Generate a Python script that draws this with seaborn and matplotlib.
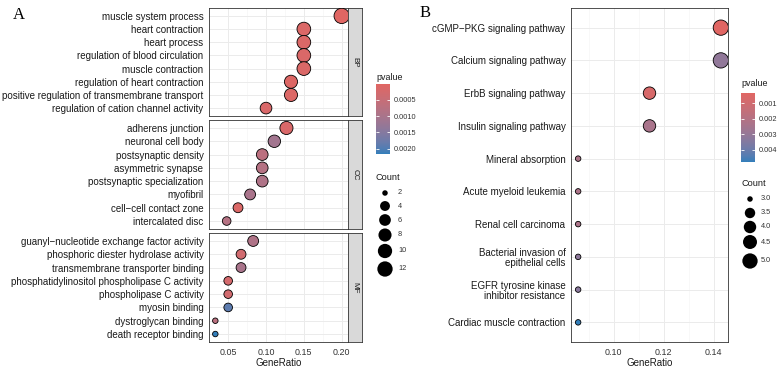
import numpy as np
import pandas as pd
import matplotlib
matplotlib.use("Agg")
import matplotlib.pyplot as plt
import seaborn as sns
from matplotlib.colors import ListedColormap, Normalize
from matplotlib.cm import ScalarMappable

# ---------------- data: panel A (GO enrichment) ----------------
bp_terms = ["muscle system process", "heart contraction", "heart process",
            "regulation of blood circulation", "muscle contraction",
            "regulation of heart contraction",
            "positive regulation of transmembrane transport",
            "regulation of cation channel activity"]
bp_ratio = [0.200, 0.150, 0.150, 0.150, 0.150, 0.133, 0.133, 0.100]
bp_count = [12, 9, 9, 9, 9, 8, 8, 6]
bp_p = [0.000015, 0.00012, 0.00012, 0.00014, 0.00013, 0.00008, 0.00010, 0.00015]

cc_terms = ["adherens junction", "neuronal cell body", "postsynaptic density",
            "asymmetric synapse", "postsynaptic specialization", "myofibril",
            "cell\u2212cell contact zone", "intercalated disc"]
cc_ratio = [0.127, 0.111, 0.095, 0.095, 0.095, 0.079, 0.063, 0.048]
cc_count = [8, 7, 6, 6, 6, 5, 4, 3]
cc_p = [0.00015, 0.0011, 0.0007, 0.0008, 0.0009, 0.0010, 0.00012, 0.0008]

mf_terms = ["guanyl\u2212nucleotide exchange factor activity",
            "phosphoric diester hydrolase activity",
            "transmembrane transporter binding",
            "phosphatidylinositol phospholipase C activity",
            "phospholipase C activity", "myosin binding",
            "dystroglycan binding", "death receptor binding"]
mf_ratio = [0.083, 0.067, 0.067, 0.050, 0.050, 0.050, 0.033, 0.033]
mf_count = [5, 4, 4, 3, 3, 3, 2, 2]
mf_p = [0.0009, 0.0003, 0.0010, 0.00025, 0.0003, 0.0019, 0.0007, 0.00216]

facet_labels = ["BP", "CC", "MF"]
count_breaks_a = [2, 4, 6, 8, 10, 12]
p_breaks_a = [0.0005, 0.0010, 0.0015, 0.0020]

# ---------------- data: panel B (KEGG enrichment) ----------------
kegg_terms = ["cGMP\u2212PKG signaling pathway", "Calcium signaling pathway",
              "ErbB signaling pathway", "Insulin signaling pathway",
              "Mineral absorption", "Acute myeloid leukemia",
              "Renal cell carcinoma", "Bacterial invasion of\nepithelial cells",
              "EGFR tyrosine kinase\ninhibitor resistance",
              "Cardiac muscle contraction"]
kegg_ratio = [0.1429, 0.1429, 0.1143, 0.1143, 0.0857, 0.0857, 0.0857, 0.0857, 0.0857, 0.0857]
kegg_count = [5, 5, 4, 4, 3, 3, 3, 3, 3, 3]
kegg_p = [0.00035, 0.0031, 0.0007, 0.0024, 0.0023, 0.0023, 0.0023, 0.0032, 0.0033, 0.0048]
count_breaks_b = [3.0, 3.5, 4.0, 4.5, 5.0]
p_breaks_b = [0.001, 0.002, 0.003, 0.004]

W, H = 783, 370
DPI = 100

# ---------------- colour map: Lab interpolation like ggplot ----------------
def srgb_to_lab(c):
    c = np.asarray(c, float)
    lin = np.where(c <= 0.04045, c / 12.92, ((c + 0.055) / 1.055) ** 2.4)
    M = np.array([[0.4124, 0.3576, 0.1805], [0.2126, 0.7152, 0.0722], [0.0193, 0.1192, 0.9505]])
    xyz = M @ lin / np.array([0.95047, 1.0, 1.08883])
    f = np.where(xyz > 0.008856, np.cbrt(xyz), 7.787 * xyz + 16 / 116)
    return np.array([116 * f[1] - 16, 500 * (f[0] - f[1]), 200 * (f[1] - f[2])])

def lab_to_srgb(lab):
    L, a, b = lab
    fy = (L + 16) / 116
    fx = fy + a / 500
    fz = fy - b / 200
    f = np.array([fx, fy, fz])
    xyz = np.where(f ** 3 > 0.008856, f ** 3, (f - 16 / 116) / 7.787) * np.array([0.95047, 1.0, 1.08883])
    Mi = np.array([[3.2406, -1.5372, -0.4986], [-0.9689, 1.8758, 0.0415], [0.0557, -0.2040, 1.0570]])
    lin = np.clip(Mi @ xyz, 0, 1)
    return np.where(lin <= 0.0031308, 12.92 * lin, 1.055 * lin ** (1 / 2.4) - 0.055)

low = np.array([0xE0, 0x66, 0x63]) / 255
high = np.array([0x32, 0x7E, 0xBA]) / 255
la, lb = srgb_to_lab(low), srgb_to_lab(high)
cmap = ListedColormap([np.clip(lab_to_srgb(la + (lb - la) * t), 0, 1) for t in np.linspace(0, 1, 256)])

# ---------------- size mapping like ggplot scale_size ----------------
D_MIN, D_MAX = 5.5, 15.3   # diameters in pixels
def size_of(c, cmin, cmax):
    d = D_MIN + (D_MAX - D_MIN) * np.sqrt((c - cmin) / (cmax - cmin))
    return (d * 72 / DPI) ** 2

sns.set_style("white")
plt.rcParams["font.family"] = ["Liberation Sans", "DejaVu Sans"]

fig = plt.figure(figsize=(W / DPI, H / DPI), dpi=DPI)

def fbox(x0, y0, x1, y1):
    return [x0 / W, 1 - y1 / H, (x1 - x0) / W, (y1 - y0) / H]

BORDER = "#333333"

def style_axes(ax, xmajor, xminor, xlim, n, show_x):
    ax.set_xlim(*xlim)
    ax.set_ylim(n - 1 + 0.6, -0.6)
    ax.set_xticks(xmajor)
    ax.set_xticks(xminor, minor=True)
    ax.grid(True, which="major", color="#EBEBEB", lw=0.7)
    ax.grid(True, which="minor", axis="x", color="#F4F4F4", lw=0.45)
    ax.set_axisbelow(True)
    for s in ax.spines.values():
        s.set_color(BORDER)
        s.set_linewidth(0.6)
    ax.tick_params(axis="y", which="major", length=2.5, width=0.5, color=BORDER,
                   labelsize=7, labelcolor="#1a1a1a", pad=1.5)
    ax.tick_params(axis="x", which="major", length=2.5 if show_x else 0, width=0.5,
                   color=BORDER, labelsize=6.4, labelcolor="#333333", pad=1.5,
                   labelbottom=show_x)
    ax.tick_params(which="minor", length=0)
    ax.set_ylabel("")
    ax.set_xlabel("GeneRatio" if show_x else "", fontsize=7, color="#1a1a1a", labelpad=1)

# ---------------- panel A ----------------
groups = [(bp_terms, bp_ratio, bp_count, bp_p),
          (cc_terms, cc_ratio, cc_count, cc_p),
          (mf_terms, mf_ratio, mf_count, mf_p)]
all_ratio_a = bp_ratio + cc_ratio + mf_ratio
all_count_a = bp_count + cc_count + mf_count
all_p_a = bp_p + cc_p + mf_p
rmin, rmax = min(all_ratio_a), max(all_ratio_a)
xlim_a = (rmin - 0.05 * (rmax - rmin), rmax + 0.05 * (rmax - rmin))
cmin_a, cmax_a = min(all_count_a), max(all_count_a)
norm_a = Normalize(min(all_p_a), max(all_p_a))
sizes_a = {c: size_of(c, cmin_a, cmax_a) for c in sorted(set(all_count_a))}

panel_y = [(8, 116), (120, 229), (233, 342)]
for i, ((terms, ratio, count, pv), (y0, y1)) in enumerate(zip(groups, panel_y)):
    ax = fig.add_axes(fbox(209, y0, 348, y1))
    df = pd.DataFrame({"Description": terms, "GeneRatio": ratio, "Count": count, "pvalue": pv})
    sns.scatterplot(data=df, x="GeneRatio", y="Description", hue="pvalue", size="Count",
                    sizes=sizes_a, palette=cmap, hue_norm=norm_a, edgecolor="black",
                    linewidth=0.6, legend=False, ax=ax, zorder=3)
    style_axes(ax, [0.05, 0.10, 0.15, 0.20], [0.025, 0.075, 0.125, 0.175], xlim_a,
               len(terms), show_x=(i == 2))
    if i == 2:
        ax.set_xticklabels(["0.05", "0.10", "0.15", "0.20"])
    sax = fig.add_axes(fbox(348, y0, 362, y1))
    sax.set_facecolor("#D9D9D9")
    sax.set_xticks([]); sax.set_yticks([])
    for s in sax.spines.values():
        s.set_color(BORDER); s.set_linewidth(0.6)
    sax.text(0.5, 0.5, facet_labels[i], rotation=-90, ha="center", va="center",
             fontsize=5.8, color="#1a1a1a", transform=sax.transAxes)

# ---------------- panel B ----------------
axb = fig.add_axes(fbox(571, 8, 728, 342))
dfb = pd.DataFrame({"Description": kegg_terms, "GeneRatio": kegg_ratio,
                    "Count": kegg_count, "pvalue": kegg_p})
rminb, rmaxb = min(kegg_ratio), max(kegg_ratio)
xlim_b = (rminb - 0.05 * (rmaxb - rminb), rmaxb + 0.05 * (rmaxb - rminb))
cmin_b, cmax_b = min(kegg_count), max(kegg_count)
norm_b = Normalize(min(kegg_p), max(kegg_p))
sizes_b = {c: size_of(c, cmin_b, cmax_b) for c in sorted(set(kegg_count))}
sns.scatterplot(data=dfb, x="GeneRatio", y="Description", hue="pvalue", size="Count",
                sizes=sizes_b, palette=cmap, hue_norm=norm_b, edgecolor="black",
                linewidth=0.6, legend=False, ax=axb, zorder=3)
style_axes(axb, [0.10, 0.12, 0.14], [0.09, 0.11, 0.13], xlim_b, len(kegg_terms), True)
axb.set_xticklabels(["0.10", "0.12", "0.14"])
for t in axb.get_yticklabels():
    t.set_linespacing(1.05)

# ---------------- legends ----------------
ov = fig.add_axes([0, 0, 1, 1], zorder=10)
ov.set_xlim(0, W); ov.set_ylim(H, 0); ov.axis("off")

def colorbar(x0, y0, x1, y1, norm, breaks, fmt):
    cax = fig.add_axes(fbox(x0, y0, x1, y1))
    cb = fig.colorbar(ScalarMappable(norm=norm, cmap=cmap), cax=cax)
    cb.outline.set_visible(False)
    cax.invert_yaxis()
    cb.set_ticks(breaks)
    cb.set_ticklabels([fmt.format(b) for b in breaks])
    cax.tick_params(length=0, labelsize=5.3, labelcolor="#333333", pad=3)
    cax.hlines(breaks, 0, 0.2, color="white", lw=0.6)
    cax.hlines(breaks, 0.8, 1.0, color="white", lw=0.6)

def size_legend(xc, xl, ys, vals, cmin, cmax, fmt):
    ov.scatter([xc] * len(vals), ys, s=[size_of(v, cmin, cmax) for v in vals],
               color="black", edgecolor="none")
    for y, v in zip(ys, vals):
        ov.text(xl, y, fmt.format(v), fontsize=5.3, color="#333333", va="center", ha="left")

# panel A legends
ov.text(376, 77, "pvalue", fontsize=6.4, color="#1a1a1a", va="center", ha="left")
colorbar(376, 84, 390, 154, norm_a, p_breaks_a, "{:.4f}")
ov.text(376, 177, "Count", fontsize=6.6, color="#1a1a1a", va="center", ha="left")
size_legend(385, 398, [193, 206, 220, 235, 251, 269], count_breaks_a, cmin_a, cmax_a, "{:d}")

# panel B legends
ov.text(741, 84, "pvalue", fontsize=6.4, color="#1a1a1a", va="center", ha="left")
colorbar(741, 93, 755, 162, norm_b, p_breaks_b, "{:.3f}")
ov.text(741, 184, "Count", fontsize=6.6, color="#1a1a1a", va="center", ha="left")
size_legend(750, 761, [199, 213, 227, 242, 261], count_breaks_b, cmin_b, cmax_b, "{:.1f}")

# panel letters
ov.text(13, 15, "A", fontsize=12, family=["Liberation Serif", "DejaVu Serif"],
        va="center", ha="left", color="black")
ov.text(420, 13, "B", fontsize=12, family=["Liberation Serif", "DejaVu Serif"],
        va="center", ha="left", color="black")

fig.savefig("out.png", dpi=DPI)
